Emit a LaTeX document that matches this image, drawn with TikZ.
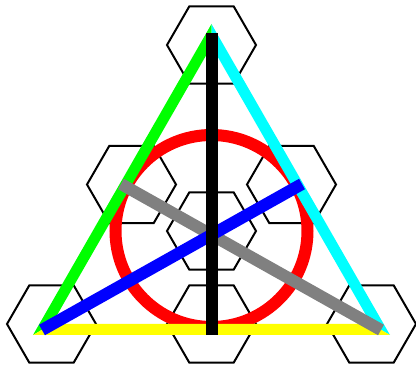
\documentclass[tikz,border=0pt]{standalone}
\usetikzlibrary{calc}
\definecolor{pcyan}{RGB}{0,255,255}
\definecolor{pgreen}{RGB}{0,255,0}
\definecolor{pyellow}{RGB}{255,255,0}
\definecolor{pred}{RGB}{255,0,0}
\definecolor{pblue}{RGB}{0,0,255}
\definecolor{pgray}{RGB}{128,128,128}
\begin{document}
\begin{tikzpicture}[x=1pt,y=-1pt,
  hexa/.style={draw=black,line width=2pt,line join=miter},
  median/.style={line width=12pt,line cap=butt}]
\useasboundingbox (0,0) rectangle (416,369);
% hexagon centres
\coordinate (h1) at (211.5,45);
\coordinate (h2) at (131.5,184.5);
\coordinate (h3) at (291.5,184.5);
\coordinate (h4) at (211.5,231);
\coordinate (h5) at (51.5,324);
\coordinate (h6) at (211.5,324);
\coordinate (h7) at (371.5,324);
\foreach \h in {h1,h2,h3,h4,h5,h6,h7}{
  \draw[hexa] ($(\h)+(-44.5,0)$) -- ++(22.25,-38.54) -- ++(44.5,0) -- ++(22.25,38.54)
     -- ++(-22.25,38.54) -- ++(-44.5,0) -- cycle;
}
% triangle
\coordinate (A) at (211.5,24);
\coordinate (B) at (33,335);
\coordinate (C) at (390,335);
\coordinate (Ai) at (211.5,46);
\coordinate (Bi) at (51.9,324);
\coordinate (Ci) at (371.1,324);
\coordinate (O) at (211.5,231);
% circle
\draw[pred,line width=12pt] (O) circle[radius=96];
% sides
\fill[pgreen] (A) -- (B) -- (Bi) -- (Ai) -- cycle;
\fill[pcyan] (A) -- (C) -- (Ci) -- (Ai) -- cycle;
\fill[pyellow] (B) -- (C) -- (Ci) -- (Bi) -- cycle;
% medians
\coordinate (g1) at (121,184);
\coordinate (g2) at (381,330);
\coordinate (b1) at (42,330);
\coordinate (b2) at (302,184);
\coordinate (k1) at (211.5,33);
\coordinate (k2) at (211.5,335);
\draw[median,pgray] (g1) -- (g2);
\draw[median,pblue] (b1) -- (b2);
\draw[median,black] (k1) -- (k2);
\end{tikzpicture}
\end{document}
